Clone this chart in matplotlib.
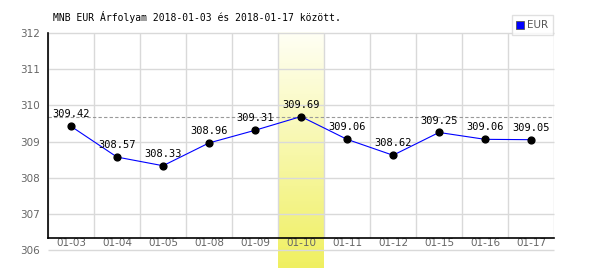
import numpy as np
from matplotlib import pyplot as plt
from matplotlib.lines import Line2D

dates = ['01-03', '01-04', '01-05', '01-08', '01-09', '01-10', '01-11', '01-12', '01-15', '01-16', '01-17']
rates = [309.42, 308.57, 308.33, 308.96, 309.31, 309.69, 309.06, 308.62, 309.25, 309.06, 309.05]
yticks = [306, 307, 308, 309, 310, 311, 312]
highlight = '01-10'

W, H = 600, 270
fig = plt.figure(figsize=(W / 100, H / 100), dpi=100)
# axes box in pixels: x 48..554, y 33..250
ax = fig.add_axes([48 / W, (H - 250) / H, (554 - 48) / W, (250 - 33) / H])
ax.set_xlim(-0.5, len(dates) - 0.5)
ax.set_ylim(306, 312)
for s in ax.spines.values():
    s.set_visible(False)

x = np.arange(len(dates))
axis_y = 306 + 12 / 36.17  # black x-axis line sits a bit above 306

# highlighted day, yellow gradient
hi = dates.index(highlight)
grad = np.linspace(0, 1, 100).reshape(-1, 1)
c_top = np.array([1.0, 1.0, 0.96])
c_bot = np.array([0.94, 0.94, 0.38])
img = c_top + (c_bot - c_top) * grad[:, :, None] * np.ones((1, 1, 3))
ax.imshow(img, extent=(hi - 0.5, hi + 0.5, 305.5, 312), origin='upper',
          aspect='auto', zorder=0, clip_on=False)

# grid
gc = '#d9d9d9'
ax.hlines(yticks, -0.5, len(dates) - 0.5, color=gc, lw=1, zorder=1, clip_on=False)
ax.vlines(np.arange(len(dates) + 1) - 0.5, axis_y, 312, color=gc, lw=1, zorder=1)
ax.plot([-0.5, -0.5], [axis_y, 312], color='black', lw=1.2, zorder=3, clip_on=False)
ax.plot([-0.5, len(dates) - 0.5], [axis_y, axis_y], color='black', lw=1.2, zorder=3, clip_on=False)

# max line
ax.axhline(max(rates), color='#999999', lw=0.8, ls=(0, (3, 2)), zorder=2)

ax.plot(x, rates, color='blue', lw=0.8, zorder=4)
ax.scatter(x, rates, s=24, color='black', zorder=5)
for xi, v in zip(x, rates):
    ax.annotate(f'{v:.2f}', (xi, v), xytext=(0, 5), textcoords='offset points',
                ha='center', va='bottom', fontsize=7.5, family='DejaVu Sans Mono',
                color='black', zorder=6)

ax.set_yticks(yticks)
ax.set_yticklabels([str(t) for t in yticks])
ax.set_xticks(x)
ax.set_xticklabels(dates)
ax.tick_params(axis='y', length=0, pad=6, labelsize=7.5, labelcolor='#666666')
ax.tick_params(axis='x', length=0, pad=-9, labelsize=7.5, labelcolor='#666666')

fig.text(53 / W, 1 - 17 / H, 'MNB EUR Árfolyam 2018-01-03 és 2018-01-17 között.',
         fontsize=7, family='DejaVu Sans Mono', va='center', ha='left')

h = Line2D([], [], marker='s', color='blue', ls='none', markersize=5.5,
           markeredgecolor='#555555', markeredgewidth=0.6)
leg = fig.legend([h], ['EUR'], loc='upper right', bbox_to_anchor=(553 / W, 1 - 15 / H),
                 fontsize=7.5, frameon=True, fancybox=False, handlelength=0.6,
                 handletextpad=0.3, borderpad=0.5, borderaxespad=0)
leg.get_frame().set_edgecolor('#d9d9d9')
leg.get_frame().set_linewidth(1)
for t in leg.get_texts():
    t.set_color('#555555')

fig.savefig('out.png', dpi=100)
